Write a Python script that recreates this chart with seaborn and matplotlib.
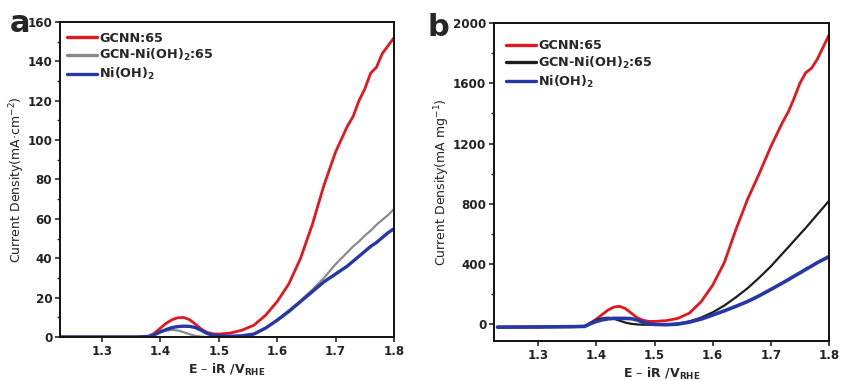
import numpy as np
import pandas as pd
import matplotlib
matplotlib.use("Agg")
import matplotlib.pyplot as plt
from matplotlib.ticker import MultipleLocator
import seaborn as sns

# ---------------- data ----------------
E = [1.23, 1.30, 1.36, 1.38, 1.39, 1.40, 1.41, 1.42, 1.43, 1.44, 1.45, 1.46, 1.47, 1.48,
     1.49, 1.50, 1.52, 1.54, 1.56, 1.58, 1.60, 1.62, 1.64, 1.66, 1.68, 1.70, 1.72, 1.73,
     1.74, 1.75, 1.76, 1.77, 1.78, 1.79, 1.80]

# panel a: mA cm^-2
a_gcnn = [0, 0, 0, 0.3, 2, 4.5, 7, 8.8, 9.8, 9.9, 8.8, 6.5, 4, 2.3,
          1.6, 1.5, 2, 3.5, 6, 11, 18, 27, 40, 57, 77, 94, 107, 112,
          120, 126, 134, 137, 144, 148, 152]
a_gcnni = [0, 0, 0, 0.3, 1.5, 2.5, 3.2, 3.6, 3.3, 2.4, 1.4, 0.6, 0.2, 0,
           0, 0, 0.2, 0.6, 1.5, 4.5, 8.8, 13.5, 18.5, 24, 30, 37, 43, 46,
           48.5, 51.5, 54, 57, 59.5, 62, 65]
a_nioh = [0, 0, 0, 0.3, 1.2, 2.6, 3.8, 4.8, 5.3, 5.5, 5.4, 4.8, 3.4, 1.8,
          0.9, 0.6, 0.4, 0.6, 1.5, 4.5, 8.5, 13, 18, 23, 28, 32, 36, 38.5,
          41, 43.5, 46, 48, 50.5, 53, 55]

# panel b: mA mg^-1
b_gcnn = [-18, -17, -15, -12, 10, 35, 65, 95, 115, 120, 105, 75, 45, 28,
          20, 20, 25, 40, 75, 150, 260, 410, 630, 830, 1000, 1180, 1340, 1410,
          1500, 1600, 1670, 1700, 1760, 1840, 1920]
b_gcnni = [-18, -17, -15, -12, 10, 30, 40, 45, 38, 25, 12, 4, 0, -2,
           -2, -2, 0, 5, 20, 45, 80, 125, 180, 240, 310, 385, 470, 512,
           555, 598, 640, 685, 730, 775, 820]
b_nioh = [-18, -17, -15, -13, 5, 20, 30, 37, 40, 40, 40, 38, 30, 15,
          5, 0, -2, 2, 15, 35, 62, 90, 120, 152, 190, 232, 275, 297,
          320, 342, 365, 387, 410, 430, 450]

labels_a = ["GCNN:65", "GCN-Ni(OH)$_\\mathbf{2}$:65", "Ni(OH)$_\\mathbf{2}$"]
labels_b = ["GCNN:65", "GCN-Ni(OH)$_\\mathbf{2}$:65", "Ni(OH)$_\\mathbf{2}$"]
x_ticks = [1.3, 1.4, 1.5, 1.6, 1.7, 1.8]
ya_ticks = [0, 20, 40, 60, 80, 100, 120, 140, 160]
yb_ticks = [0, 400, 800, 1200, 1600, 2000]

# ---------------- plot ----------------
sns.set_style("ticks")
plt.rcParams["font.family"] = ["DejaVu Sans"]
plt.rcParams["mathtext.default"] = "bf"

fig = plt.figure(figsize=(8.41, 3.81), dpi=100)
axa = fig.add_axes([0.0713, 0.1155, 0.3972, 0.8268])
axb = fig.add_axes([0.5874, 0.105, 0.3983, 0.8346])

red = "#e3171d"
blue = "#2637a6"
gray_a = "#8a8a8a"
black_b = "#1e1e1e"

def draw(ax, ys, labels, colors, widths):
    for y, lab, c, w in zip(ys, labels, colors, widths):
        df = pd.DataFrame({"E": E, "J": y})
        sns.lineplot(data=df, x="E", y="J", ax=ax, color=c, linewidth=w, label=lab)

draw(axa, [a_gcnn, a_gcnni, a_nioh], labels_a, [red, gray_a, blue], [2.0, 1.6, 2.4])
draw(axb, [b_gcnn, b_gcnni, b_nioh], labels_b, [red, black_b, blue], [2.0, 1.6, 2.6])

axa.set_xlim(1.228, 1.8)
axa.set_ylim(0, 160)
axb.set_xlim(1.224, 1.8)
axb.set_ylim(-110, 2000)
axa.set_yticks(ya_ticks)
axb.set_yticks(yb_ticks)
axa.yaxis.set_minor_locator(MultipleLocator(10))
axb.yaxis.set_minor_locator(MultipleLocator(200))

for ax in (axa, axb):
    ax.set_xticks(x_ticks)
    ax.set_xticklabels([f"{v:.1f}" for v in x_ticks])
    for lbl in ax.get_xticklabels() + ax.get_yticklabels():
        lbl.set_fontweight("bold")
        lbl.set_fontsize(8.6)
        lbl.set_color("#222222")
    ax.tick_params(axis="both", which="major", direction="out", length=3.5, width=1.2, pad=2)
    ax.tick_params(axis="y", which="minor", direction="out", length=2, width=1)
    for s in ax.spines.values():
        s.set_linewidth(1.4)
        s.set_color("#111111")
    ax.set_xlabel("E – iR /V$_{\\mathbf{RHE}}$", fontsize=9, fontweight="bold", labelpad=3)

def legend(ax, anchor):
    leg = ax.legend(loc="upper left", bbox_to_anchor=anchor, frameon=False,
                    handlelength=2.4, handletextpad=0.15, labelspacing=0.2,
                    borderaxespad=0.0, prop={"weight": "bold", "size": 9.2})
    for h in leg.get_lines():
        h.set_linewidth(2.4)

legend(axa, (0.005, 0.985))
legend(axb, (0.02, 0.965))

axa.set_ylabel("Current Density(mA·cm$^{\\mathregular{-2}}$)", fontsize=9, color="#222222")
axb.set_ylabel("Current Density(mA mg$^{\\mathregular{-1}}$)", fontsize=9, color="#222222")
axa.yaxis.set_label_coords(-0.1, 0.5)
axb.yaxis.set_label_coords(-0.125, 0.5)

fig.text(0.011, 0.915, "a", fontsize=22, fontweight="bold")
fig.text(0.508, 0.905, "b", fontsize=22, fontweight="bold")

fig.savefig("out.png", dpi=100)
